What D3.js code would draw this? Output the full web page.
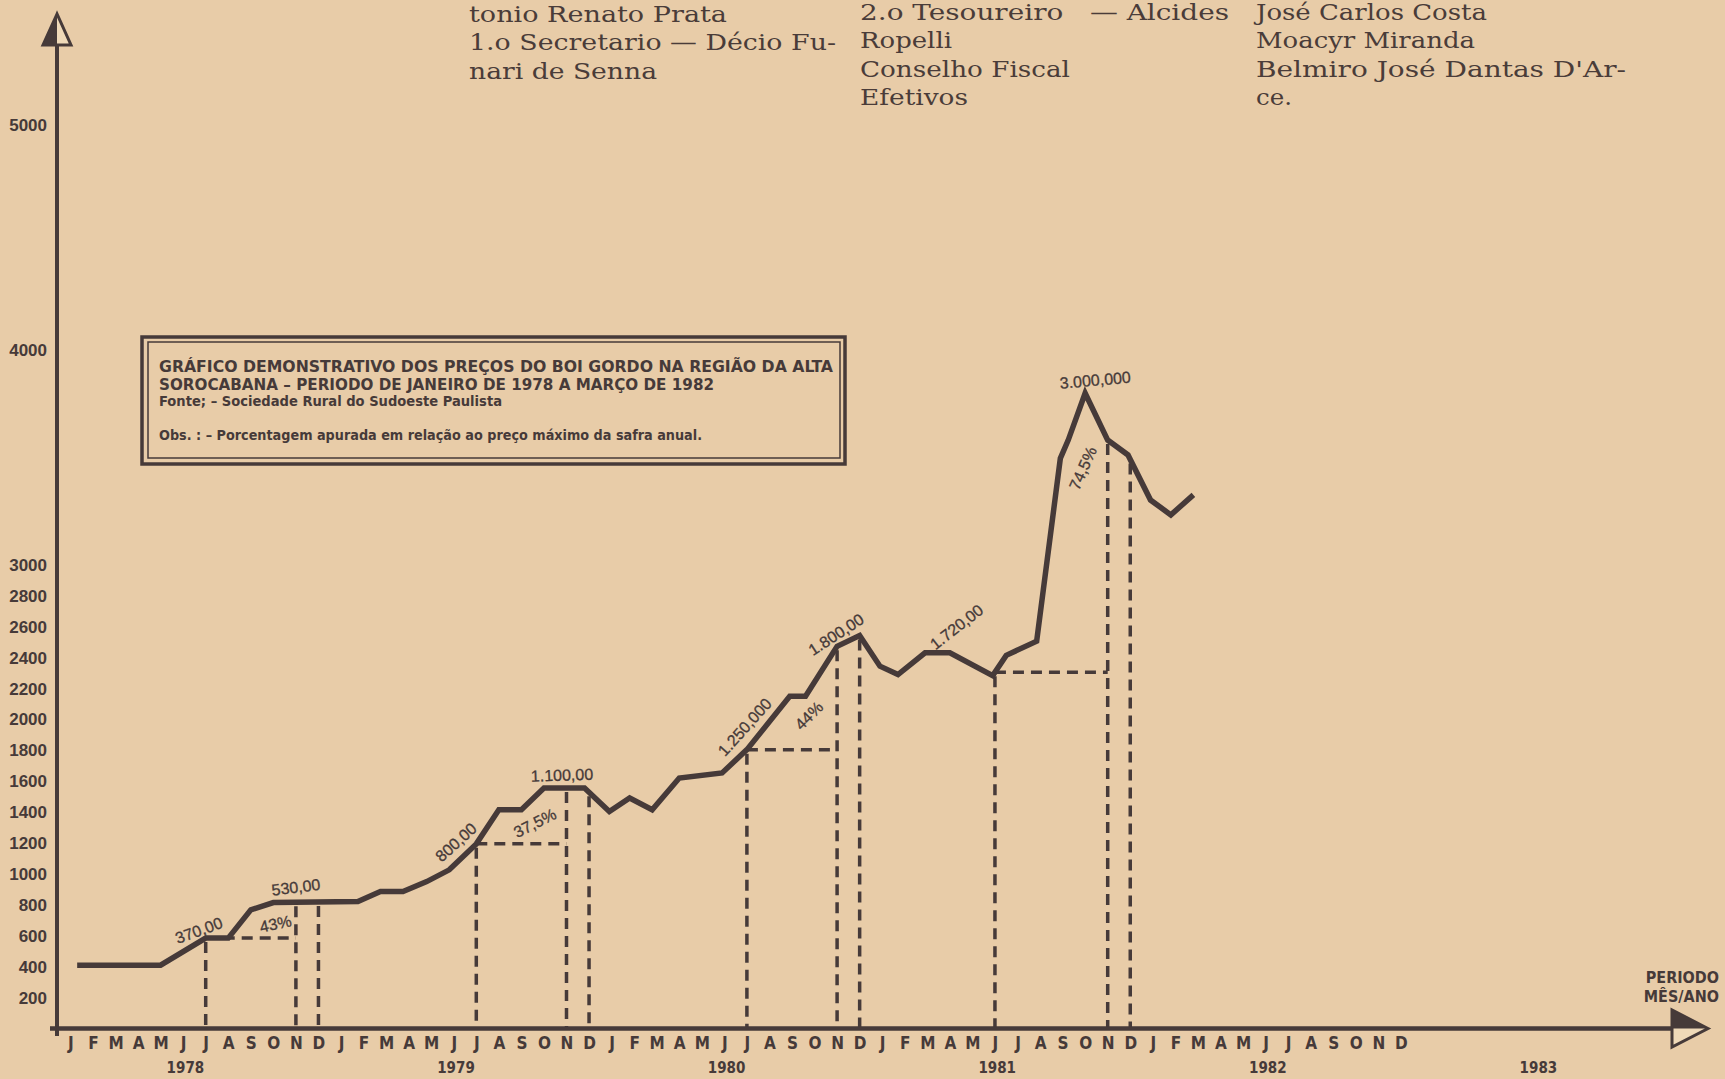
<!DOCTYPE html>
<html>
<head>
<meta charset="utf-8">
<script src="https://d3js.org/d3.v7.min.js"></script>
<style>
  body { margin: 0; background: #e8cca8; }
  svg { display: block; }
</style>
</head>
<body>
<svg id="chart"></svg>
<script>
  // price line vertices: month index counted from Jan 1978, value on the printed y scale
  var months = [0.3, 4, 6, 7, 8, 9, 12.75, 13.75, 14.75, 15.8, 16.8, 18, 19, 20, 21, 22.8, 23.9, 24.8, 25.8, 27, 28.9,
    30, 31.9, 32.6, 34, 35, 35.9, 36.7, 37.9, 39, 40.9, 41.5, 42.85, 43.9, 44.25, 45, 46, 46.9, 47.9, 48.8, 49.8];
  var prices = [410, 410, 585, 585, 768, 815, 822, 887, 887, 951, 1027, 1195, 1416, 1416, 1557, 1557, 1405, 1492, 1416, 1621, 1654,
    1805, 2150, 2150, 2474, 2544, 2345, 2291, 2432, 2432, 2284, 2415, 2507, 3496, 3581, 3799, 3581, 3512, 3302, 3233, 3326];

  // dashed guides per harvest year: start month, max month, following month
  var guideFrom = [6, 18, 30, 41];
  var guideTo = [10, 22, 34, 46];
  var guideNext = [11, 23, 35, 47];

  var yTicks = [200, 400, 600, 800, 1000, 1200, 1400, 1600, 1800, 2000, 2200, 2400, 2600, 2800, 3000, 4000, 5000];
  var monthLetters = ["J", "F", "M", "A", "M", "J", "J", "A", "S", "O", "N", "D"];
  var years = [1978, 1979, 1980, 1981, 1982, 1983];

  // labels written along the curve
  var noteText = ["370,00", "530,00", "43%", "800,00", "1.100,00", "37,5%", "1.250,000", "44%", "1.800,00", "1.720,00", "3.000,000", "74,5%"];
  var noteMonth = [5.7, 10.0, 9.1, 17.1, 21.8, 20.6, 29.9, 32.75, 33.95, 39.3, 45.45, 44.9];
  var noteValue = [635, 915, 677, 1205, 1640, 1330, 1951, 2025, 2550, 2599, 3860, 3450];
  var noteAngle = [-20, -7, -12, -42, -2, -27, -48, -45, -33, -38, -5, -66];

  // newspaper columns cut off above the chart
  var headText = ["tonio Renato Prata", "1.o Secretario — Décio Fu-", "nari de Senna",
    "2.o Tesoureiro   — Alcides", "Ropelli", "Conselho Fiscal", "Efetivos",
    "José Carlos Costa", "Moacyr Miranda", "Belmiro José Dantas D'Ar-", "ce."];
  var headX = [469, 469, 469, 860, 860, 860, 860, 1256, 1256, 1256, 1256];
  var headY = [22, 50, 79, 20, 48, 77, 105, 20, 48, 77, 105];
  var headW = [258, 367, 188, 369, 92, 210, 108, 231, 219, 370, 36];

  var width = 1725, height = 1079;
  var ink = "#463a39";
  var narrow = "'Liberation Sans Narrow', 'DejaVu Sans Condensed', 'Liberation Sans', sans-serif";

  var svg = d3.select("#chart").attr("width", width).attr("height", height);

  svg.append("rect").attr("width", width).attr("height", height).attr("fill", "#e8cca8");

  var x = d3.scaleLinear().domain([0, 59]).range([70.4, 70.4 + 59 * 22.55]);
  // printed scale changes step above 3000
  var y = d3.scaleLinear().domain([0, 3000, 4000, 5000]).range([1028.5, 565, 350, 125]);

  function lineAt(m) {
    for (var i = 1; i < months.length; i++) {
      if (m <= months[i]) {
        var t = (m - months[i - 1]) / (months[i] - months[i - 1]);
        return prices[i - 1] + t * (prices[i] - prices[i - 1]);
      }
    }
    return prices[prices.length - 1];
  }

  // header text
  svg.append("g").selectAll("text")
    .data(headText)
    .enter()
    .append("text")
    .attr("x", function(d, i) { return headX[i]; })
    .attr("y", function(d, i) { return headY[i]; })
    .attr("textLength", function(d, i) { return headW[i]; })
    .attr("lengthAdjust", "spacingAndGlyphs")
    .style("font-family", "'DejaVu Serif', 'Liberation Serif', serif")
    .style("font-size", "22px")
    .style("fill", "#4a3c39")
    .style("white-space", "pre")
    .text(function(d) { return d; });

  // title box
  var box = svg.append("g");
  box.append("rect").attr("x", 142).attr("y", 337).attr("width", 703).attr("height", 127)
    .attr("fill", "none").attr("stroke", ink).attr("stroke-width", 3.5);
  box.append("rect").attr("x", 148).attr("y", 342).attr("width", 692).attr("height", 116)
    .attr("fill", "none").attr("stroke", ink).attr("stroke-width", 1.5);
  var boxLines = [
    ["GRÁFICO DEMONSTRATIVO DOS PREÇOS DO BOI GORDO NA REGIÃO DA ALTA", 372, 674, 16],
    ["SOROCABANA – PERIODO DE JANEIRO DE 1978 A MARÇO DE 1982", 390, 555, 16],
    ["Fonte; – Sociedade Rural do Sudoeste Paulista", 406, 343, 14],
    ["Obs. : – Porcentagem apurada em relação ao preço máximo da safra anual.", 440, 543, 14]
  ];
  box.selectAll("text")
    .data(boxLines)
    .enter()
    .append("text")
    .attr("x", 159)
    .attr("y", function(d) { return d[1]; })
    .attr("textLength", function(d) { return d[2]; })
    .attr("lengthAdjust", "spacingAndGlyphs")
    .style("font-family", narrow)
    .style("font-weight", "bold")
    .style("font-size", function(d) { return d[3] + "px"; })
    .style("fill", ink)
    .text(function(d) { return d[0]; });

  // dashed guides
  var guides = svg.append("g")
    .attr("stroke", ink)
    .attr("stroke-width", 3.5)
    .attr("stroke-dasharray", "11,7")
    .attr("fill", "none");
  guideFrom.forEach(function(m, i) {
    var level = lineAt(m);
    guides.append("line")
      .attr("x1", x(m)).attr("x2", x(guideTo[i]))
      .attr("y1", y(level)).attr("y2", y(level));
    [m, guideTo[i], guideNext[i]].forEach(function(mm) {
      guides.append("line")
        .attr("x1", x(mm)).attr("x2", x(mm))
        .attr("y1", y(lineAt(mm)) + 4).attr("y2", y(0));
    });
  });

  // axes
  var yAxis = svg.append("g")
    .attr("transform", "translate(50,0)")
    .call(d3.axisLeft(y).tickValues(yTicks).tickSize(0).tickPadding(3).tickFormat(d3.format("d")));
  yAxis.select(".domain").remove();
  yAxis.selectAll("text")
    .style("font-family", "'Liberation Sans', Arial, sans-serif")
    .style("font-weight", "bold")
    .style("font-size", "17px")
    .style("fill", ink);

  var xAxis = svg.append("g")
    .attr("transform", "translate(0,1033)")
    .call(d3.axisBottom(x).tickValues(d3.range(60)).tickSize(0).tickPadding(4)
      .tickFormat(function(d) { return monthLetters[d % 12]; }));
  xAxis.select(".domain").remove();
  xAxis.selectAll("text")
    .style("font-family", narrow)
    .style("font-weight", "bold")
    .style("font-size", "17px")
    .style("fill", ink);

  svg.append("g").selectAll("text")
    .data(years)
    .enter()
    .append("text")
    .attr("x", function(d, i) { return x(i * 12 + 5.1); })
    .attr("y", 1073)
    .attr("text-anchor", "middle")
    .style("font-family", narrow)
    .style("font-weight", "bold")
    .style("font-size", "15px")
    .style("fill", ink)
    .text(function(d) { return d; });

  // axis lines with arrows
  svg.append("line").attr("x1", 57).attr("x2", 57).attr("y1", 30).attr("y2", 1036)
    .attr("stroke", ink).attr("stroke-width", 4);
  svg.append("line").attr("x1", 50).attr("x2", 1675).attr("y1", 1028.5).attr("y2", 1028.5)
    .attr("stroke", ink).attr("stroke-width", 4.5);
  svg.append("path").attr("d", "M57,14 L43,45 L71,45 Z")
    .attr("fill", "#efd9b8").attr("stroke", ink).attr("stroke-width", 3).attr("stroke-linejoin", "miter");
  svg.append("path").attr("d", "M57,14 L43,45 L57,45 Z").attr("fill", ink);
  svg.append("path").attr("d", "M1708,1028.5 L1672,1010 L1672,1047 Z")
    .attr("fill", "#efd9b8").attr("stroke", ink).attr("stroke-width", 3).attr("stroke-linejoin", "miter");
  svg.append("path").attr("d", "M1708,1028.5 L1672,1010 L1672,1028.5 Z").attr("fill", ink);

  svg.append("g").selectAll("text")
    .data(["PERIODO", "MÊS/ANO"])
    .enter()
    .append("text")
    .attr("x", 1719)
    .attr("y", function(d, i) { return 983 + i * 19; })
    .attr("text-anchor", "end")
    .style("font-family", narrow)
    .style("font-weight", "bold")
    .style("font-size", "16px")
    .style("fill", ink)
    .text(function(d) { return d; });

  // price line
  var line = d3.line()
    .x(function(d) { return x(d); })
    .y(function(d, i) { return y(prices[i]); });
  svg.append("path")
    .datum(months)
    .attr("d", line)
    .attr("fill", "none")
    .attr("stroke", ink)
    .attr("stroke-width", 5.5)
    .attr("stroke-linejoin", "miter")
    .attr("stroke-miterlimit", 3);

  // annotations
  svg.append("g").selectAll("text")
    .data(noteText)
    .enter()
    .append("text")
    .attr("transform", function(d, i) {
      return "translate(" + x(noteMonth[i]) + "," + y(noteValue[i]) + ") rotate(" + noteAngle[i] + ")";
    })
    .attr("text-anchor", "middle")
    .attr("dy", "0.35em")
    .style("font-family", "'Liberation Sans', Arial, sans-serif")
    .style("font-size", "16px")
    .style("fill", ink)
    .style("stroke", ink)
    .style("stroke-width", 0.3)
    .text(function(d) { return d; });
</script>
</body>
</html>
